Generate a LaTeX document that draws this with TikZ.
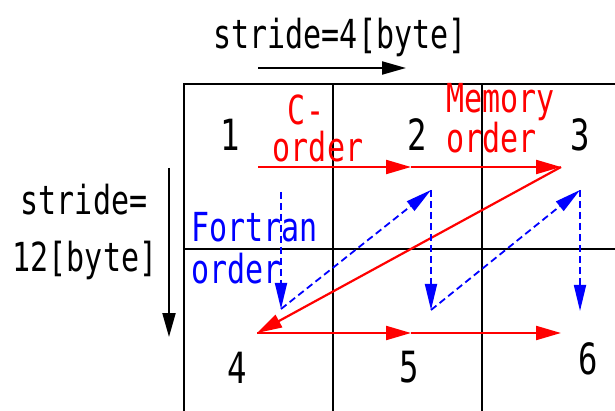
\documentclass[tikz,border=0pt]{standalone}
\usepackage{fontspec}
\usetikzlibrary{arrows.meta}
\newfontfamily\gfont[FakeStretch=0.75]{DejaVu Sans Mono}
\begin{document}
\begin{tikzpicture}[x=1pt,y=-1pt,
  lbl/.style={inner sep=0pt,font=\gfont\fontsize{40}{42}\selectfont},
  num/.style={inner sep=0pt,font=\gfont\fontsize{43}{46}\selectfont},
  gridline/.style={line width=2pt,black},
  redarr/.style={red,line width=2.2pt,-{Triangle[length=25pt,width=14pt]}},
  bluearr/.style={blue,line width=1.8pt,dash pattern=on 7pt off 4pt,-{Triangle[length=26pt,width=12pt]}},
  blackarr/.style={black,line width=2pt,-{Triangle[length=24pt,width=13pt]}}]
\useasboundingbox (0,0) rectangle (615,411);
% grid
\draw[gridline] (615,84) -- (184,84) -- (184,411);
\draw[gridline] (333,84) -- (333,411);
\draw[gridline] (482,84) -- (482,411);
\draw[gridline] (184,249) -- (615,249);
% labels
\node[lbl] (top) at (340,37) {stride=4[byte]};
\coordinate (ta) at (258,68);
\coordinate (tb) at (406,68);
\draw[blackarr] (ta) -- (tb);
\node[lbl] (ls1) at (84,200) {stride=};
\node[lbl] (ls2) at (85,260) {12[byte]};
\coordinate (la) at (169,168);
\coordinate (lb) at (169,337);
\draw[blackarr] (la) -- (lb);
% numbers
\node[num] (n1) at (230,135) {1};
\node[num] (n2) at (417,135) {2};
\node[num] (n3) at (580,135) {3};
\node[num] (n4) at (237,368) {4};
\node[num] (n5) at (409,367) {5};
\node[num] (n6) at (588,359) {6};
% red texts
\node[lbl,red] (c1) at (306,110) {C-};
\node[lbl,red] (c2) at (318,147) {order};
\node[lbl,red,anchor=west] (m1) at (446,102) {Memory};
\node[lbl,red,anchor=west] (m2) at (446,138) {order};
% blue texts
\node[lbl,blue,anchor=west] (f1) at (191,227) {Fortran};
\node[lbl,blue,anchor=west] (f2) at (191,269) {order};
% red path
\coordinate (r1) at (258,167);
\coordinate (r2) at (411,167);
\coordinate (r3) at (561,167);
\coordinate (r4) at (257,333);
\coordinate (r5) at (411,333);
\coordinate (r6) at (561,333);
\draw[redarr] (r1) -- (r2);
\draw[redarr] (r2) -- (r3);
\draw[redarr] (r3) -- (r4);
\draw[redarr] (r4) -- (r5);
\draw[redarr] (r5) -- (r6);
% blue path
\coordinate (b1) at (281,192);
\coordinate (b2) at (281,309);
\coordinate (b3) at (431,190);
\coordinate (b4) at (431,310);
\coordinate (b5) at (580,190);
\coordinate (b6) at (580,311);
\draw[bluearr] (b1) -- (b2);
\draw[bluearr] (b2) -- (b3);
\draw[bluearr] (b3) -- (b4);
\draw[bluearr] (b4) -- (b5);
\draw[bluearr] (b5) -- (b6);
\end{tikzpicture}
\end{document}
